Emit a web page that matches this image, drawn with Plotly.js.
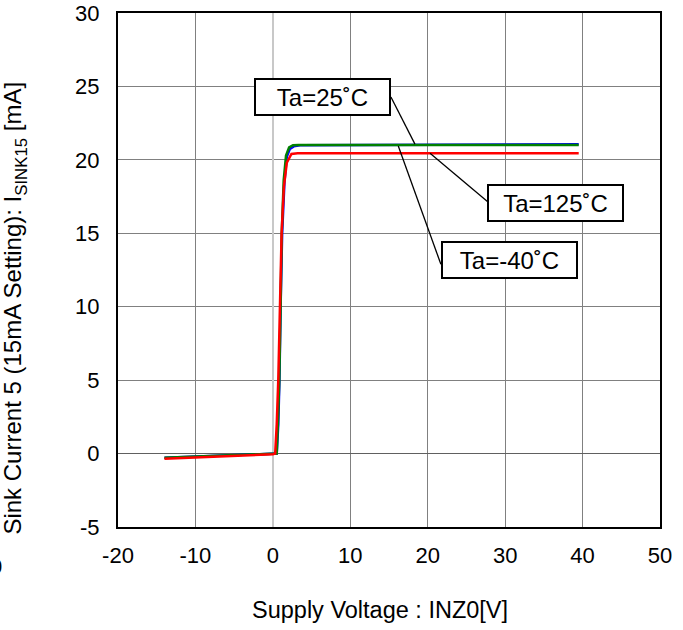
<!DOCTYPE html>
<html>
<head>
<meta charset="utf-8">
<script src="https://cdn.plot.ly/plotly-3.0.1.min.js"></script>
<style>html,body{margin:0;padding:0;background:#fff;}#chart{width:683px;height:630px;}</style>
</head>
<body>
<div id="chart"></div>
<script>
// Ta=25°C (blue)
const x25 = [-14, -10, -5, 0, 0.5, 0.7, 0.85, 1.0, 1.2, 1.5, 1.8, 2.2, 2.7, 3.5, 10, 20, 30, 39.5];
const y25 = [-0.28, -0.2, -0.11, -0.02, 0, 2, 5, 10, 15, 18.5, 20.2, 20.75, 20.92, 21.0, 21.0, 21.02, 21.05, 21.06];
// Ta=-40°C (green)
const xm40 = [-14, -10, -5, 0, 0.5, 0.65, 0.83, 1.0, 1.15, 1.4, 1.7, 2.1, 2.6, 3.3, 10, 20, 30, 39.5];
const ym40 = [-0.28, -0.2, -0.11, -0.02, 0, 2, 5, 10, 15, 18.6, 20.3, 20.85, 21.0, 21.02, 21.02, 21.02, 21.02, 21.02];
// Ta=125°C (red)
const x125 = [-14, -10, -5, 0, 0.3, 0.5, 0.7, 0.92, 1.13, 1.43, 1.8, 2.4, 3.2, 10, 20, 30, 39.5];
const y125 = [-0.35, -0.27, -0.15, -0.05, 0, 2, 5, 10, 15, 18.2, 19.8, 20.4, 20.45, 20.45, 20.45, 20.45, 20.45];

const labels = ["Ta=25˚C", "Ta=125˚C", "Ta=-40˚C"];
const labelX = [6.35, 36.45, 30.6];
const labelY = [24.25, 17.06, 13.18];
const leaderFromX = [15.25, 28.9, 21.7];
const leaderFromY = [24.28, 16.63, 12.89];
const leaderToX = [18.35, 20.3, 16.2];
const leaderToY = [21.07, 20.45, 20.95];

const xTicks = [-20, -10, 0, 10, 20, 30, 40, 50];
const yTicks = [-5, 0, 5, 10, 15, 20, 25, 30];

const FONT = "Liberation Sans, Arial, sans-serif";

const traces = [
  {x: x25, y: y25, mode: "lines", line: {color: "#0000ff", width: 2.5}, name: labels[0]},
  {x: xm40, y: ym40, mode: "lines", line: {color: "#008000", width: 2.5}, name: labels[2]},
  {x: x125, y: y125, mode: "lines", line: {color: "#ff0000", width: 2.5}, name: labels[1]}
];

const annotations = labels.map((t, i) => ({
  x: labelX[i], y: labelY[i], xref: "x", yref: "y", text: t, showarrow: false,
  font: {family: FONT, size: 24, color: "#000"},
  bgcolor: "#fff", bordercolor: "#000", borderwidth: 2, borderpad: 0,
  width: 133, height: 34, xanchor: "center", yanchor: "middle"
}));
annotations.push({
  xref: "paper", yref: "paper", x: -0.19, y: 0.425, textangle: -90, showarrow: false,
  xanchor: "center", yanchor: "middle",
  text: "Sink Current 5 (15mA Setting): I<sub>SINK15</sub> [mA]",
  font: {family: FONT, size: 24, color: "#000"}
});
annotations.push({
  xref: "paper", yref: "paper", x: 0.483, y: -0.161, showarrow: false,
  xanchor: "center", yanchor: "middle",
  text: "Supply Voltage : INZ0[V]",
  font: {family: FONT, size: 23.5, color: "#000"}
});
annotations.push({
  xref: "paper", yref: "paper", x: -0.2122, y: -0.076, showarrow: false,
  xanchor: "right", yanchor: "middle", borderpad: 0,
  text: "0", font: {family: FONT, size: 22, color: "#000"}
});

const shapes = leaderFromX.map((v, i) => ({
  type: "line", xref: "x", yref: "y", x0: v, y0: leaderFromY[i], x1: leaderToX[i], y1: leaderToY[i],
  line: {color: "#000", width: 1.3}
}));

const layout = {
  width: 683, height: 630,
  margin: {l: 118, r: 23, t: 13, b: 103, pad: 0},
  paper_bgcolor: "#fff", plot_bgcolor: "#fff",
  showlegend: false,
  font: {family: FONT, size: 22, color: "#000"},
  xaxis: {
    range: [-20, 50], tickvals: xTicks, ticktext: xTicks.map(String),
    showgrid: true, gridcolor: "#808080", gridwidth: 1,
    zeroline: true, zerolinecolor: "#c8c8c8", zerolinewidth: 2,
    showline: true, mirror: true, linecolor: "#000", linewidth: 2,
    ticks: "", ticklabelstandoff: 8,
    tickfont: {family: FONT, size: 22, color: "#000"}
  },
  yaxis: {
    range: [-5, 30], tickvals: yTicks, ticktext: yTicks.map(String),
    showgrid: true, gridcolor: "#808080", gridwidth: 1,
    zeroline: true, zerolinecolor: "#606060", zerolinewidth: 1.5,
    showline: true, mirror: true, linecolor: "#000", linewidth: 2,
    ticks: "", ticklabelstandoff: 12,
    tickfont: {family: FONT, size: 22, color: "#000"}
  },
  annotations: annotations,
  shapes: shapes
};

Plotly.newPlot("chart", traces, layout, {displayModeBar: false, staticPlot: true});
</script>
</body>
</html>
